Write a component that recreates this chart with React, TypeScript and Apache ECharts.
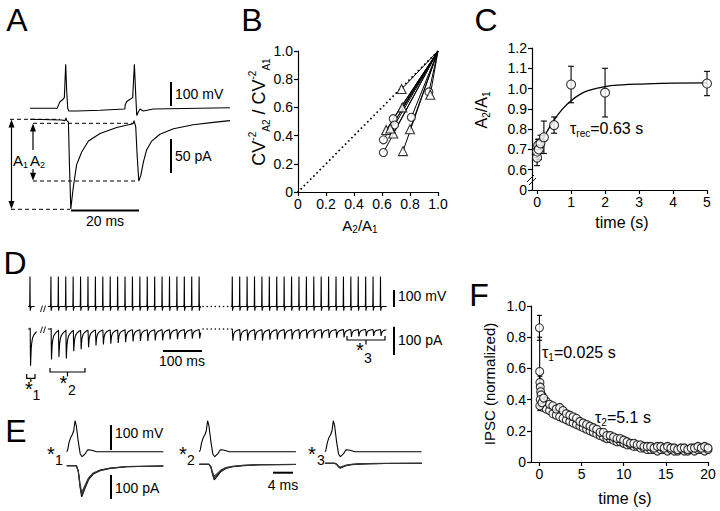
import React, { useEffect, useRef } from "react";
import * as echarts from "echarts";

const FONT = "'Liberation Sans', Arial, Helvetica, sans-serif";

// ---------------- DATA ----------------
// Panel A: membrane potential (mV, rel. baseline) and IPSC (pA) vs time (ms)
const A_VOLT_T = [0, 8.0, 8.4, 8.8, 9.5, 10.1, 10.5, 10.8, 11.1, 11.4, 13.7, 20.6, 27.9, 28.0, 28.4, 29.1, 30.2, 30.7, 31.1, 31.4, 31.8, 32.4, 33.3, 36.3, 58.8];
const A_VOLT_V = [0, 0, 14, 27, 34, 44, 181, 68, 0, -11, -11, -8, -3, 14, 27, 34, 44, 181, 55, -30, -16, -3, -11, -3, 2];
const A_CURR_T = [0, 9.3, 10.3, 10.6, 10.8, 11.3, 11.6, 12.0, 12.7, 13.7, 15.2, 17.2, 20.6, 25.5, 30.0, 30.4, 30.6, 31.1, 31.5, 32.0, 32.6, 33.4, 34.3, 35.8, 38.2, 42.2, 48.0, 53.9, 58.8];
const A_CURR_I = [0, -1, -2, 2, -2, -4, -67, -132, -101, -67, -48, -32, -21, -12, -7, -6, -2, -11, -52, -91, -82, -62, -45, -32, -22, -14, -8, -4.5, -2];

// Panel B: CV^-2 ratio vs amplitude ratio
const B_CIRC_X = [0.68, 0.81, 0.61, 0.61, 0.935, 0.69];
const B_CIRC_Y = [0.52, 0.53, 0.37, 0.28, 0.71, 0.475];
const B_TRI_X = [0.74, 0.745, 0.945, 0.63, 0.68, 0.8, 0.75, 0.66];
const B_TRI_Y = [0.73, 0.6, 0.69, 0.44, 0.415, 0.445, 0.29, 0.45];

// Panel C: recovery of A2/A1
const C_T = [0, 0, 0.03, 0.05, 0.1, 0.2, 0.5, 1, 2, 5];
const C_RATIO = [0.66, 0.69, 0.72, 0.7, 0.73, 0.76, 0.82, 1.02, 0.98, 1.025];
const C_ERR = [0.04, 0.03, 0.03, 0.05, 0.04, 0.08, 0.04, 0.09, 0.12, 0.06];
const C_FIT_T = [0, 0.1, 0.2, 0.3, 0.5, 0.75, 1, 1.25, 1.5, 2, 2.5, 3, 4, 5];
const C_FIT_Y = [0.67, 0.72, 0.76, 0.79, 0.845, 0.9, 0.94, 0.97, 0.99, 1.01, 1.018, 1.022, 1.027, 1.028];
const C_X_TICKS = [0, 1, 2, 3, 4, 5];

// Panel D: 50 Hz train (ms)
const D_ISI = 19;
const D_SINGLE_TIME = 12.8;
const D_SINGLE_AMP = 130;
const D_TRAIN1_START = 66.5;
const D_TRAIN2_START = 531.5;
const D_TRAIN1_AMPS = [108, 94, 99, 73, 67, 61, 55, 52, 49, 47, 44, 42, 40, 40, 38, 38, 35, 34, 33, 32, 32];
const D_TRAIN2_AMPS = [41, 40, 38, 37, 39, 36, 35, 34, 35, 33, 32, 31, 32, 30, 29, 28, 26, 25, 24, 23, 23];
const SPIKE_SHAPE_T = [-1.5, -0.6, 0, 0.6, 1.5, 3, 5];
const SPIKE_SHAPE_V = [0, 15, 180, -25, -10, -3, 0];
const IPSC_SHAPE_T = [0, 0.3, 0.6, 0.9, 1.5, 2.2, 3.2, 4.7, 6.7, 10.1, 15.0, 19.5, 30, 45];
const IPSC_SHAPE_F = [0, -0.03, 0.03, 0.5, 1, 0.77, 0.51, 0.36, 0.24, 0.16, 0.09, 0.05, 0.02, 0];

// Panel E: single sweeps (ms, mV / pA)
const E_AP_T = [0, 0.2, 0.48, 0.83, 1.17, 1.45, 1.72, 2.0, 2.4, 2.8, 3.2, 3.8, 4.35, 4.97, 6.2, 20];
const E_AP_V = [0, 7, 36, 57, 69, 84, 124, 103, 40, -9, -20, -9, 8, 7, 0, 0];
const E_IPSC_T = [0, 2.0, 2.4, 2.76, 3.1, 3.8, 4.5, 5.5, 6.9, 9.0, 12.4, 20];
const E_IPSC_F = [0, 0, 0.19, 0.68, 1, 0.73, 0.46, 0.27, 0.16, 0.086, 0.032, 0.01];
const E_IPSC_AMPS = [
  [128, 119, 110],
  [64, 57, 50],
  [20, 18, 16],
];

// Panel F: normalized IPSC during train (s)
const F_EARLY_T = [0, 0.03, 0.06, 0.1, 0.15, 0.2, 0.05, 0.1, 0.3, 0.5];
const F_EARLY_Y = [0.86, 0.58, 0.51, 0.48, 0.45, 0.43, 0.36, 0.4, 0.38, 0.41];
const F_EARLY_ERR = [0.08, 0.22, 0.04, 0.03, 0.03, 0.03, 0.03, 0.03, 0.03, 0.03];
const F_T = [0.4, 0.8, 1.2, 1.6, 2.0, 2.4, 2.8, 3.2, 3.6, 4.0, 4.4, 4.8, 5.2, 5.6, 6.0, 6.4, 6.8, 7.2, 7.6, 8.0, 8.4, 8.8, 9.2, 9.6, 10.0, 10.4, 10.8, 11.2, 11.6, 12.0, 12.4, 12.8, 13.2, 13.6, 14.0, 14.4, 14.8, 15.2, 15.6, 16.0, 16.4, 16.8, 17.2, 17.6, 18.0, 18.4, 18.8, 19.2, 19.6, 20.0];
const F_Y1 = [0.41, 0.39, 0.37, 0.36, 0.34, 0.35, 0.33, 0.31, 0.3, 0.29, 0.28, 0.26, 0.25, 0.24, 0.23, 0.22, 0.21, 0.19, 0.19, 0.17, 0.17, 0.16, 0.15, 0.15, 0.14, 0.13, 0.12, 0.12, 0.11, 0.11, 0.1, 0.1, 0.1, 0.09, 0.1, 0.1, 0.09, 0.1, 0.09, 0.09, 0.08, 0.09, 0.09, 0.08, 0.09, 0.09, 0.1, 0.09, 0.1, 0.09];
const F_Y2 = [0.35, 0.34, 0.33, 0.31, 0.3, 0.29, 0.28, 0.27, 0.26, 0.25, 0.24, 0.23, 0.22, 0.21, 0.2, 0.19, 0.18, 0.17, 0.16, 0.15, 0.15, 0.14, 0.13, 0.13, 0.12, 0.11, 0.11, 0.1, 0.1, 0.09, 0.09, 0.08, 0.08, 0.08, 0.07, 0.08, 0.08, 0.07, 0.08, 0.07, 0.07, 0.08, 0.07, 0.07, 0.08, 0.07, 0.08, 0.08, 0.07, 0.08];
const F_ERR = 0.02;
const F_X_TICKS = [0, 5, 10, 15, 20];

// ---------------- HELPERS ----------------
function interp(ts: number[], vs: number[], dt: number) {
  if (dt <= ts[0]) return vs[0];
  if (dt >= ts[ts.length - 1]) return vs[vs.length - 1];
  for (let k = 1; k < ts.length; k++) {
    if (dt <= ts[k]) {
      const f = (dt - ts[k - 1]) / (ts[k] - ts[k - 1]);
      return vs[k - 1] + f * (vs[k] - vs[k - 1]);
    }
  }
  return 0;
}

function buildTrace(t0: number, t1: number, events: { t: number; a: number }[], shT: number[], shV: number[], sign: number) {
  const set = new Set<number>([t0, t1]);
  events.forEach((e) => shT.forEach((d) => {
    const t = +(e.t + d).toFixed(3);
    if (t >= t0 && t <= t1) set.add(t);
  }));
  const times = Array.from(set).sort((a, b) => a - b);
  return times.map((t) => [t, events.reduce((s, e) => s + sign * e.a * interp(shT, shV, t - e.t), 0)]);
}

function trainEvents(start: number, amps: number[]) {
  return amps.map((a, i) => ({ t: start + i * D_ISI, a }));
}

function zip(xs: number[], ys: number[]) {
  return xs.map((x, i) => [x, ys[i]]);
}

function buildOption() {
  const grid: any[] = [];
  const xAxis: any[] = [];
  const yAxis: any[] = [];
  const series: any[] = [];
  const graphic: any[] = [];

  const addGrid = (g: any, xa: any, ya: any) => {
    const i = grid.length;
    grid.push({ ...g, containLabel: false, outerBoundsMode: "none" });
    xAxis.push({ type: "value", gridIndex: i, ...xa });
    yAxis.push({ type: "value", gridIndex: i, ...ya });
    return i;
  };
  const traceGrid = (left: number, top: number, width: number, height: number, pxX: number, zeroY: number, pxY: number) =>
    addGrid(
      { left, top, width, height },
      { show: false, min: 0, max: width / pxX },
      { show: false, min: -(top + height - zeroY) / pxY, max: (zeroY - top) / pxY }
    );
  const line = (gi: number, data: any[], extra: any = {}) =>
    series.push({
      type: "line", xAxisIndex: gi, yAxisIndex: gi, data, symbol: "none", showSymbol: false,
      silent: true, clip: false, z: 3, lineStyle: { color: "#000", width: 1.1 }, ...extra,
    });
  const scatter = (gi: number, data: any[], symbol: string, size: number) =>
    series.push({
      type: "scatter", xAxisIndex: gi, yAxisIndex: gi, data, symbol, symbolSize: size, silent: true, z: 5,
      itemStyle: { color: "#fff", borderColor: "#000", borderWidth: 1.1 },
    });
  const errorBars = (gi: number, data: any[], cap: number) =>
    series.push({
      type: "custom", xAxisIndex: gi, yAxisIndex: gi, data, encode: { x: 0, y: 1 }, silent: true, z: 4, clip: false,
      renderItem: (_p: any, api: any) => {
        const x = api.value(0), y = api.value(1), e = api.value(2);
        const p1 = api.coord([x, y + e]);
        const p2 = api.coord([x, y - e]);
        const st = { stroke: "#000", lineWidth: 1.1, fill: null };
        return {
          type: "group",
          children: [
            { type: "line", shape: { x1: p1[0], y1: p1[1], x2: p2[0], y2: p2[1] }, style: st },
            { type: "line", shape: { x1: p1[0] - cap, y1: p1[1], x2: p1[0] + cap, y2: p1[1] }, style: st },
            { type: "line", shape: { x1: p2[0] - cap, y1: p2[1], x2: p2[0] + cap, y2: p2[1] }, style: st },
          ],
        };
      },
    });

  const gLine = (x1: number, y1: number, x2: number, y2: number, w = 1, dash?: number[], cap = "butt") =>
    graphic.push({
      type: "line", silent: true, z: 10, shape: { x1, y1, x2, y2 },
      style: { stroke: "#000", lineWidth: w, lineDash: dash, lineCap: cap },
    });
  const gPoly = (pts: number[][], closed = true, w = 1.2) =>
    graphic.push(
      closed
        ? { type: "polygon", silent: true, z: 10, shape: { points: pts }, style: { fill: "#000" } }
        : { type: "polyline", silent: true, z: 10, shape: { points: pts }, style: { stroke: "#000", lineWidth: w, fill: null } }
    );
  const gText = (x: number, y: number, text: string, size: number, align = "left", valign = "middle", rotation = 0, rich?: any) =>
    graphic.push({
      type: "text", silent: true, z: 10, x, y, rotation,
      style: {
        text, fontSize: size, fontFamily: FONT, fill: "#000",
        align, verticalAlign: valign, textAlign: align, textVerticalAlign: valign, rich,
      },
    });
  const richSub = (n: number, s: number, lh: number) => ({
    n: { fontSize: n, fontFamily: FONT, fill: "#000", color: "#000", lineHeight: lh, verticalAlign: "middle" },
    sub: { fontSize: s, fontFamily: FONT, fill: "#000", color: "#000", lineHeight: s, verticalAlign: "bottom" },
    sup: { fontSize: s, fontFamily: FONT, fill: "#000", color: "#000", lineHeight: s, verticalAlign: "top" },
  });

  const axisLine = { show: true, onZero: false, lineStyle: { color: "#000", width: 1.2 } };
  const axisTick = { show: true, length: 4, inside: false, lineStyle: { color: "#000", width: 1.2 } };
  const labelBase = { show: true, color: "#000", fontSize: 14, fontFamily: FONT, margin: 5 };
  const fmt1 = (v: number) => (Math.abs(v) < 1e-9 ? "0" : v.toFixed(1));

  // ---------- Panel A ----------
  const aV = traceGrid(30, 60, 200, 55, 3.4, 108.3, 0.243);
  line(aV, zip(A_VOLT_T, A_VOLT_V));
  const aI = traceGrid(30, 112, 200, 102, 3.4, 119.3, 0.68);
  line(aI, zip(A_CURR_T, A_CURR_I));
  const dash = [4, 3];
  gLine(10, 119.3, 60, 119.3, 1, dash);
  gLine(33, 123.3, 133, 123.3, 1, dash);
  gLine(33, 181, 138, 181, 1, dash);
  gLine(11, 209.3, 70, 209.3, 1, dash);
  gLine(11.5, 125, 11.5, 203.5, 1.2);
  gPoly([[11.5, 119.5], [8.5, 127.5], [14.5, 127.5]]);
  gPoly([[11.5, 209], [8.5, 201], [14.5, 201]]);
  gLine(33, 129, 33, 150, 1.2);
  gLine(33, 169, 33, 175, 1.2);
  gPoly([[33, 123.5], [30, 131.5], [36, 131.5]]);
  gPoly([[33, 180.8], [30, 172.8], [36, 172.8]]);
  gText(13, 160, "{n|A}{sub|1}", 15, "left", "middle", 0, richSub(15, 9, 19));
  gText(30, 160, "{n|A}{sub|2}", 15, "left", "middle", 0, richSub(15, 9, 19));
  gLine(171, 82, 171, 106, 2);
  gLine(171, 139, 171, 173, 2);
  gLine(71, 210.5, 139, 210.5, 2);
  gText(175, 94, "100 mV", 14);
  gText(175, 156, "50 pA", 14);
  gText(105, 221, "20 ms", 14, "center");

  // ---------- Panel B ----------
  const b = addGrid(
    { left: 298, top: 51, width: 140, height: 141 },
    { min: 0, max: 1, interval: 0.2, axisLine, axisTick, splitLine: { show: false }, axisLabel: { ...labelBase, formatter: fmt1 } },
    { min: 0, max: 1, interval: 0.2, axisLine, axisTick, splitLine: { show: false }, axisLabel: { ...labelBase, formatter: fmt1 } }
  );
  line(b, [[0, 0], [1, 1]], { lineStyle: { color: "#000", width: 1.8, type: [0.1, 4.4], cap: "round" }, z: 2 });
  B_CIRC_X.forEach((x, i) => line(b, [[x, B_CIRC_Y[i]], [1, 1]], { z: 2, lineStyle: { color: "#000", width: 1 } }));
  B_TRI_X.forEach((x, i) => line(b, [[x, B_TRI_Y[i]], [1, 1]], { z: 2, lineStyle: { color: "#000", width: 1 } }));
  scatter(b, zip(B_CIRC_X, B_CIRC_Y), "circle", 8);
  scatter(b, zip(B_TRI_X, B_TRI_Y), "triangle", 9);
  gText(259, 112, "{n|CV}{sup|-2}{sub|A2}{n| / CV}{sup|-2}{sub|A1}", 18, "center", "middle", Math.PI / 2, richSub(18, 10, 24));
  gText(360, 225, "{n|A}{sub|2}{n|/A}{sub|1}", 15, "center", "middle", 0, richSub(15, 10, 19));

  // ---------- Panel C ----------
  const c = addGrid(
    { left: 532, top: 48, width: 175, height: 142 },
    {
      min: -0.15, max: 5, axisLine, splitLine: { show: false },
      axisTick: { ...axisTick, customValues: C_X_TICKS },
      axisLabel: { ...labelBase, customValues: C_X_TICKS, formatter: (v: number) => String(Math.round(v)) },
    },
    {
      min: 0.5, max: 1.2, interval: 0.1, axisLine, axisTick, splitLine: { show: false },
      axisLabel: { ...labelBase, formatter: (v: number) => (v < 0.55 ? "0" : v.toFixed(1)) },
    }
  );
  line(c, zip(C_FIT_T, C_FIT_Y), { smooth: 0.4, lineStyle: { color: "#000", width: 1.3 } });
  errorBars(c, C_T.map((t, i) => [t, C_RATIO[i], C_ERR[i]]), 3);
  scatter(c, zip(C_T, C_RATIO), "circle", 9);
  gLine(527, 182, 534, 175, 1);
  gLine(529, 185, 536, 178, 1);
  gText(570, 128, "{n|τ}{sub|rec}{n|=0.63 s}", 15, "left", "middle", 0, richSub(16, 10, 20));
  gText(481, 110, "{n|A}{sub|2}{n|/A}{sub|1}", 16, "center", "middle", Math.PI / 2, richSub(16, 10, 20));
  gText(622, 222, "time (s)", 16, "center");

  // ---------- Panel D ----------
  const dV = traceGrid(25, 268, 375, 48, 0.39, 306.5, 0.167);
  const dI = traceGrid(25, 318, 375, 52, 0.39, 329, 0.283);
  const single = [{ t: D_SINGLE_TIME, a: 1 }];
  const tr1V = D_TRAIN1_AMPS.map((_, i) => ({ t: D_TRAIN1_START + i * D_ISI, a: 1 }));
  const tr2V = D_TRAIN2_AMPS.map((_, i) => ({ t: D_TRAIN2_START + i * D_ISI, a: 1 }));
  line(dV, buildTrace(8, 25, single, SPIKE_SHAPE_T, SPIKE_SHAPE_V, 1));
  line(dV, buildTrace(D_TRAIN1_START - 8, D_TRAIN1_START + 20 * D_ISI + 5, tr1V, SPIKE_SHAPE_T, SPIKE_SHAPE_V, 1));
  line(dV, buildTrace(D_TRAIN2_START - 4, D_TRAIN2_START + 20 * D_ISI + 16, tr2V, SPIKE_SHAPE_T, SPIKE_SHAPE_V, 1));
  line(dI, buildTrace(8, 30, [{ t: D_SINGLE_TIME, a: D_SINGLE_AMP }], IPSC_SHAPE_T, IPSC_SHAPE_F, -1));
  line(dI, buildTrace(D_TRAIN1_START - 8, D_TRAIN1_START + 20 * D_ISI + 5, trainEvents(D_TRAIN1_START, D_TRAIN1_AMPS), IPSC_SHAPE_T, IPSC_SHAPE_F, -1));
  line(dI, buildTrace(D_TRAIN2_START - 4, D_TRAIN2_START + 20 * D_ISI + 16, trainEvents(D_TRAIN2_START, D_TRAIN2_AMPS), IPSC_SHAPE_T, IPSC_SHAPE_F, -1));
  gLine(203, 306.5, 230, 306.5, 1.5, [0.1, 4], "round");
  gLine(203, 329, 230, 329, 1.5, [0.1, 4], "round");
  gLine(40.5, 312, 42.5, 305.5, 0.9);
  gLine(43.5, 312, 45.5, 305.5, 0.9);
  gLine(40.5, 333, 42.5, 326.5, 0.9);
  gLine(43.5, 333, 45.5, 326.5, 0.9);
  gLine(394, 290, 394, 307, 2);
  gLine(394, 326.7, 394, 355, 2);
  gLine(163, 351, 202, 351, 2);
  gText(398, 296, "100 mV", 14);
  gText(398, 340, "100 pA", 14);
  gText(182, 361, "100 ms", 14, "center");
  gPoly([[26.7, 374], [26.7, 378.3], [35, 378.3], [35, 374]], false);
  gLine(30.8, 378.3, 30.8, 382, 1.2);
  gPoly([[50, 368], [50, 372], [85, 372], [85, 368]], false);
  gLine(67.5, 372, 67.5, 376.5, 1.2);
  gPoly([[347, 336], [347, 340], [385, 340], [385, 336]], false);
  gLine(366, 340, 366, 344.5, 1.2);
  gText(29, 389, "*", 20, "center");
  gText(36.5, 395, "1", 14, "center");
  gText(63.5, 383, "*", 20, "center");
  gText(72, 389.5, "2", 14, "center");
  gText(360, 350, "*", 20, "center");
  gText(368, 357.5, "3", 14, "center");

  // ---------- Panel E ----------
  const eLeft = [66.7, 199.3, 325];
  const eCurrZero = [465.7, 464.3, 463.3];
  eLeft.forEach((left, s) => {
    const ev = traceGrid(left, 415, 97, 42, 4.83, 451.7, 0.25);
    line(ev, zip(E_AP_T, E_AP_V));
    const ei = traceGrid(left, 456, 97, 47, 4.83, eCurrZero[s], 0.243);
    E_IPSC_AMPS[s].forEach((amp, k) =>
      line(ei, E_IPSC_T.map((t, i) => [t, -amp * E_IPSC_F[i]]), { lineStyle: { color: k === 0 ? "#000" : "#333", width: 1.1 } })
    );
  });
  gLine(111, 425, 111, 450, 2);
  gLine(111, 475, 111, 499, 2);
  gLine(273, 472.7, 293, 472.7, 2);
  gText(115, 433, "100 mV", 14);
  gText(115, 488, "100 pA", 14);
  gText(283, 485, "4 ms", 14, "center");
  gText(51, 454, "*", 20, "center");
  gText(59, 460, "1", 14, "center");
  gText(183, 454, "*", 20, "center");
  gText(191, 460, "2", 14, "center");
  gText(312, 454, "*", 20, "center");
  gText(321, 460, "3", 14, "center");

  // ---------- Panel F ----------
  const f = addGrid(
    { left: 531, top: 306, width: 177, height: 156 },
    {
      min: -1, max: 20, axisLine, splitLine: { show: false },
      axisTick: { ...axisTick, customValues: F_X_TICKS },
      axisLabel: { ...labelBase, customValues: F_X_TICKS, formatter: (v: number) => String(Math.round(v)) },
    },
    { min: 0, max: 1, interval: 0.2, axisLine, axisTick, splitLine: { show: false }, axisLabel: { ...labelBase, formatter: fmt1 } }
  );
  errorBars(f, F_EARLY_T.map((t, i) => [t, F_EARLY_Y[i], F_EARLY_ERR[i]]), 2.5);
  errorBars(f, F_T.map((t, i) => [t, F_Y1[i], F_ERR]), 2);
  scatter(f, zip(F_T, F_Y2), "circle", 8);
  scatter(f, zip(F_T, F_Y1), "circle", 8);
  scatter(f, zip(F_EARLY_T, F_EARLY_Y), "circle", 8);
  gText(542, 352, "{n|τ}{sub|1}{n|=0.025 s}", 15, "left", "middle", 0, richSub(16, 10, 20));
  gText(595, 417, "{n|τ}{sub|2}{n|=5.1 s}", 15, "left", "middle", 0, richSub(16, 10, 20));
  gText(489, 384, "IPSC (normalized)", 15, "center", "middle", Math.PI / 2);
  gText(625, 498, "time (s)", 16, "center");

  // ---------- Panel letters ----------
  gText(17, 20, "A", 32, "center");
  gText(252, 20, "B", 32, "center");
  gText(486, 20, "C", 32, "center");
  gText(15, 263, "D", 32, "center");
  gText(16, 431, "E", 32, "center");
  gText(479, 295, "F", 32, "center");

  return { animation: false, backgroundColor: "#fff", grid, xAxis, yAxis, series, graphic };
}

export default function App() {
  const ref = useRef<HTMLDivElement>(null);
  useEffect(() => {
    const chart = echarts.init(ref.current as HTMLDivElement, null, { renderer: "svg" });
    chart.setOption(buildOption() as any);
    return () => chart.dispose();
  }, []);
  return (
    <div
      ref={ref}
      style={{ position: "fixed", left: 0, top: 0, width: 720, height: 511, background: "#fff" }}
    />
  );
}
